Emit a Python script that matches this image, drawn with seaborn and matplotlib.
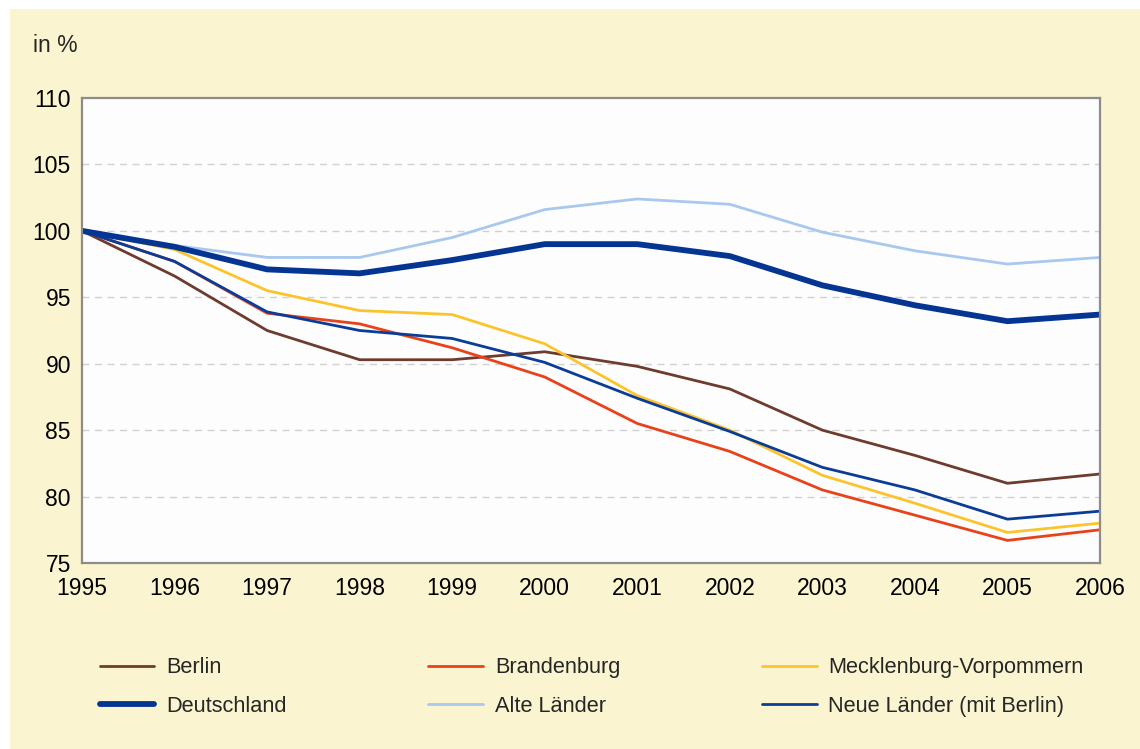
import pandas as pd
import matplotlib.pyplot as plt
import seaborn as sns
from matplotlib.patches import Rectangle

# Daten (Index 1995 = 100)
jahre = [1995, 1996, 1997, 1998, 1999, 2000, 2001, 2002, 2003, 2004, 2005, 2006]
berlin = [100, 96.6, 92.5, 90.3, 90.3, 90.9, 89.8, 88.1, 85.0, 83.1, 81.0, 81.7]
brandenburg = [100, 97.7, 93.8, 93.0, 91.2, 89.0, 85.5, 83.4, 80.5, 78.6, 76.7, 77.5]
mv = [100, 98.6, 95.5, 94.0, 93.7, 91.5, 87.6, 85.0, 81.6, 79.5, 77.3, 78.0]
deutschland = [100, 98.8, 97.1, 96.8, 97.8, 99.0, 99.0, 98.1, 95.9, 94.4, 93.2, 93.7]
alte_laender = [100, 98.9, 98.0, 98.0, 99.5, 101.6, 102.4, 102.0, 99.9, 98.5, 97.5, 98.0]
neue_laender = [100, 97.7, 93.9, 92.5, 91.9, 90.1, 87.4, 84.9, 82.2, 80.5, 78.3, 78.9]

serien = {
    'Berlin': berlin,
    'Deutschland': deutschland,
    'Brandenburg': brandenburg,
    'Alte Länder': alte_laender,
    'Mecklenburg-Vorpommern': mv,
    'Neue Länder (mit Berlin)': neue_laender,
}
farben = {
    'Berlin': '#6E3B2F',
    'Deutschland': '#053592',
    'Brandenburg': '#E8421A',
    'Alte Länder': '#A9C8EE',
    'Mecklenburg-Vorpommern': '#FCC42C',
    'Neue Länder (mit Berlin)': '#0B3D98',
}
breiten = {k: 2.0 for k in serien}
breiten['Deutschland'] = 4.2

df = pd.DataFrame([(j, name, v) for name, werte in serien.items() for j, v in zip(jahre, werte)],
                  columns=['Jahr', 'Region', 'Wert'])

sns.set_theme(style="white")
plt.rcParams['font.family'] = ['Liberation Sans', 'DejaVu Sans']

fig = plt.figure(figsize=(11.4, 7.49), dpi=100, facecolor='white')
fig.patches.append(Rectangle((10 / 1140, 0), 1, 1 - 9 / 749, transform=fig.transFigure,
                             facecolor='#FAF5D0', edgecolor='none', zorder=-1))
ax = fig.add_axes([82 / 1140, 1 - 563 / 749, (1100 - 82) / 1140, (563 - 98) / 749])
ax.set_facecolor('#FDFDFD')

# Zeichenreihenfolge: dünne zuerst, Deutschland oben
for name in ['Alte Länder', 'Berlin', 'Brandenburg', 'Mecklenburg-Vorpommern', 'Neue Länder (mit Berlin)', 'Deutschland']:
    sns.lineplot(data=df[df['Region'] == name], x='Jahr', y='Wert', color=farben[name],
                 linewidth=breiten[name], label=name, ax=ax, legend=False)

ax.set_xlim(1995, 2006)
ax.set_ylim(75, 110)
ax.set_xticks(jahre)
ax.set_yticks(range(75, 111, 5))
ax.set_xlabel('')
ax.set_ylabel('')
for y in range(80, 110, 5):
    ax.axhline(y, color='#D0D0D0', linestyle=(0, (5, 4)), linewidth=1, zorder=0)

for s in ax.spines.values():
    s.set_color('#8C8C8C')
    s.set_linewidth(1.6)
ax.tick_params(axis='both', direction='out', length=5, width=1, color='#8C8C8C',
               labelsize=16.5, labelcolor='black')
ax.tick_params(axis='x', pad=5)
ax.tick_params(axis='y', pad=3)

fig.text(33 / 1140, 1 - 46 / 749, 'in %', fontsize=16.5, va='center', ha='left')

handles = {l.get_label(): l for l in ax.get_lines() if l.get_label() in serien}
order = list(serien.keys())
leg = fig.legend([handles[k] for k in order], order, ncol=3, loc='center left',
                 bbox_to_anchor=(80 / 1140, 1 - 687 / 749), frameon=False, fontsize=15.7,
                 handlelength=2.5, handletextpad=0.55, columnspacing=6.5, labelspacing=0.8)

fig.savefig('out.png', dpi=100, facecolor=fig.get_facecolor())
